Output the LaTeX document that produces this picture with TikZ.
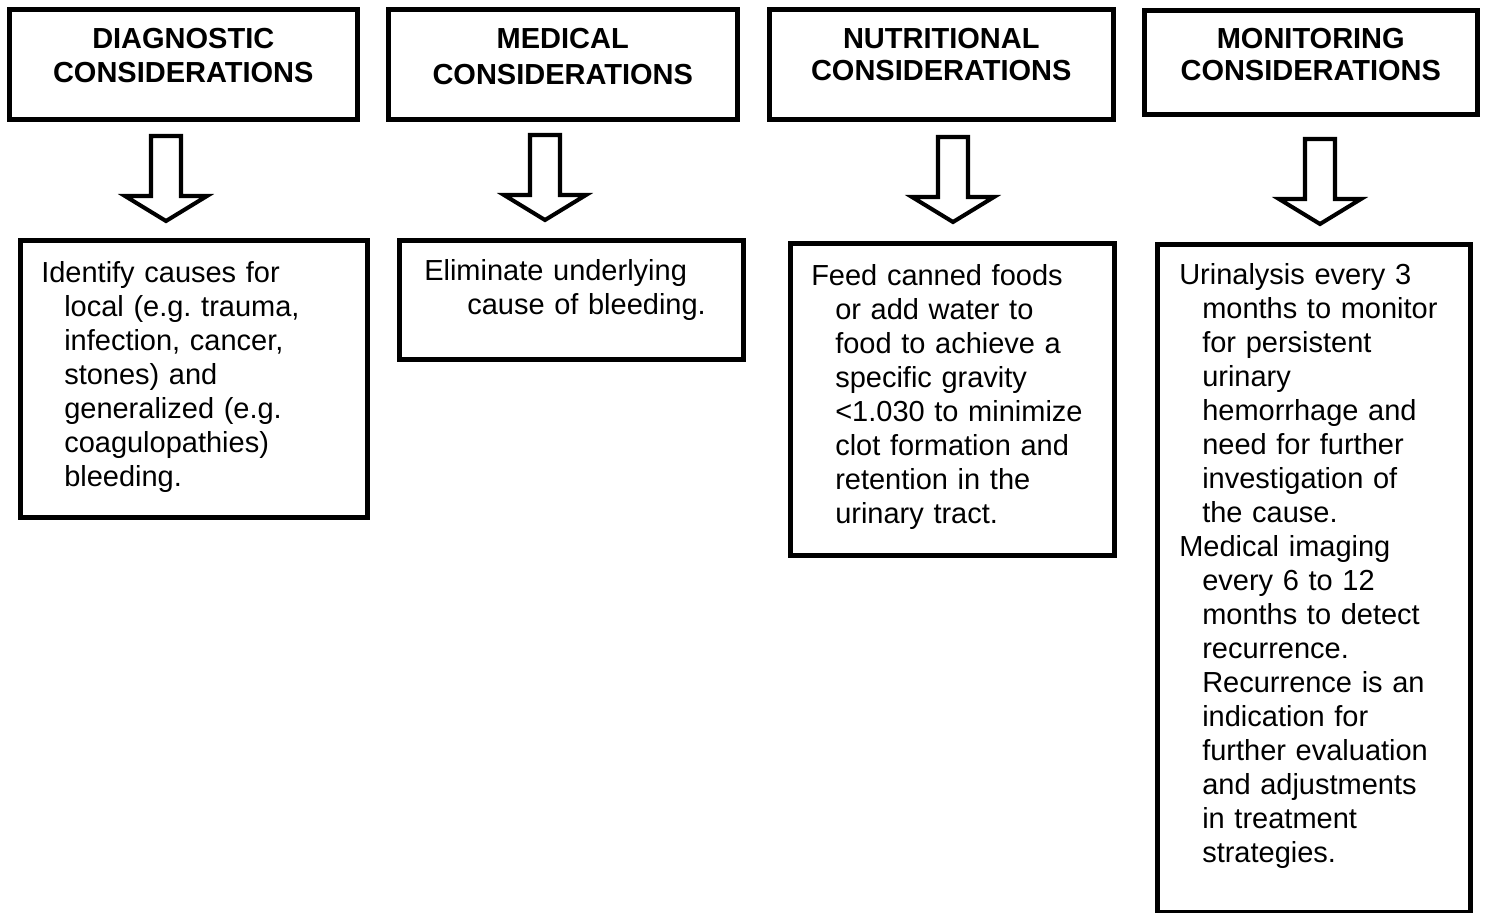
\documentclass[tikz,border=0pt]{standalone}
\usepackage{fontspec}
\setmainfont{Liberation Sans}
\frenchspacing
\newcommand\hangpar[2]{\leftskip=#1\hangindent=#2\hangafter=1\relax}

\begin{document}
\begin{tikzpicture}[x=0.02cm, y=-0.02cm,
	hdbox/.style={draw, line width=2.6pt, inner sep=0pt, anchor=north west, align=center, font=\fontsize{16.5pt}{19.35pt}\selectfont\bfseries},
	bdbox/.style={draw, line width=2.6pt, inner sep=0pt, anchor=north west, align=left, font=\fontsize{16.5pt}{19.35pt}\selectfont\frenchspacing},
	downarr/.pic={\draw[line width=2.3pt] (-15,0) -- (15,0) -- (15,60) -- (41,60) -- (0,85) -- (-41,60) -- (-15,60) -- cycle;}]
	\useasboundingbox (0,0) rectangle (1485,913);
	\node[hdbox, text width=6.96cm, text height=0.78cm, text depth=1.42cm] (hd1) at (7,7) {DIAGNOSTIC\\CONSIDERATIONS};
	\node[hdbox, text width=6.98cm, text height=0.78cm, text depth=1.42cm] (hd2) at (386,7) {MEDICAL\\[0.04cm]CONSIDERATIONS};
	\node[hdbox, text width=6.88cm, text height=0.78cm, text depth=1.42cm] (hd3) at (767,7) {NUTRITIONAL\\[-0.04cm]CONSIDERATIONS};
	\node[hdbox, text width=6.66cm, text height=0.76cm, text depth=1.32cm] (hd4) at (1142,8) {MONITORING\\[-0.04cm]CONSIDERATIONS};
	\foreach \x/\y [count=\i] in {166/136, 545/135, 953/137, 1320/139} {\pic (ar\i) at (\x,\y) {downarr};}
	\node[bdbox, text width=6.94cm, text height=0.84cm, text depth=4.70cm] (bd1) at (18,238) {\hangpar{0.42cm}{0.46cm}Identify causes for\newline local (e.g. trauma,\newline infection, cancer,\newline stones) and\newline generalized (e.g.\newline coagulopathies)\newline bleeding.\par};
	\node[bdbox, text width=6.88cm, text height=0.80cm, text depth=1.58cm] (bd2) at (397,238) {\hangpar{0.50cm}{0.86cm}Eliminate underlying\newline cause of bleeding.\par};
	\node[bdbox, text width=6.48cm, text height=0.84cm, text depth=5.40cm] (bd3) at (788,241) {\hangpar{0.42cm}{0.48cm}Feed canned foods\newline or add water to\newline food to achieve a\newline specific gravity\newline <1.030 to minimize\newline clot formation and\newline retention in the\newline urinary tract.\par};
	\node[bdbox, text width=6.26cm, text height=0.80cm, text depth=12.56cm] (bd4) at (1155,242) {\hangpar{0.44cm}{0.46cm}Urinalysis every 3\newline months to monitor\newline for persistent\newline urinary\newline hemorrhage and\newline need for further\newline investigation of\newline the cause.\par
		\hangpar{0.44cm}{0.46cm}Medical imaging\newline every 6 to 12\newline months to detect\newline recurrence.\newline Recurrence is an\newline indication for\newline further evaluation\newline and adjustments\newline in treatment\newline strategies.\par};
\end{tikzpicture}
\end{document}
